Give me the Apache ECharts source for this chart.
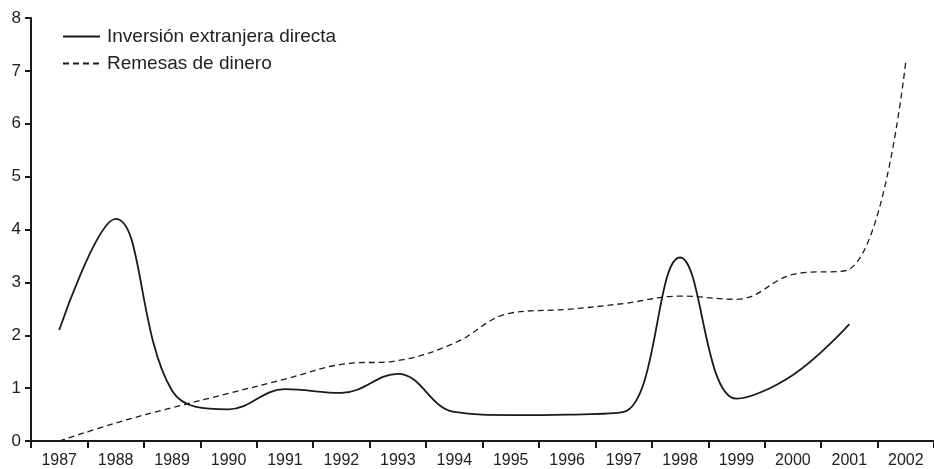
<!DOCTYPE html>
<html>
<head>
<meta charset="utf-8">
<script src="https://cdn.jsdelivr.net/npm/echarts@6/dist/echarts.min.js"></script>
<style>
  html, body { margin: 0; padding: 0; background: #fff; }
  #chart { width: 934px; height: 469px; }
</style>
</head>
<body>
<div id="chart"></div>
<script>
// years on the x axis
const years = ['1987', '1988', '1989', '1990', '1991', '1992', '1993', '1994',
  '1995', '1996', '1997', '1998', '1999', '2000', '2001', '2002'];

// Inversión extranjera directa (no 2002 value)
const inversion = [2.1, 4.2, 0.95, 0.6, 0.98, 0.91, 1.27, 0.55,
  0.49, 0.5, 0.55, 3.47, 0.8, 1.25, 2.21, null];

// Remesas de dinero
const remesas = [0, 0.34, 0.63, 0.9, 1.17, 1.45, 1.52, 1.85,
  2.42, 2.49, 2.6, 2.74, 2.68, 3.15, 3.25, 7.18];

const yTicks = { min: 0, max: 8, interval: 1 };

const fontFamily = '"Liberation Sans", Arial, sans-serif';
const ink = '#1a1a1a';

const myChart = echarts.init(document.getElementById('chart'), null, { renderer: 'canvas' });

const option = {
  animation: false,
  backgroundColor: '#fff',
  textStyle: { fontFamily },
  legend: {
    orient: 'vertical',
    left: 62,
    top: 27,
    padding: 0,
    itemWidth: 37,
    itemHeight: 14,
    itemGap: 8,
    // hide the symbol dot, keep only the line sample
    itemStyle: { opacity: 0 },
    textStyle: {
      fontSize: 19,
      color: '#222',
      fontFamily,
      lineHeight: 18,
      padding: [0, 0, 0, 2]
    },
    data: ['Inversión extranjera directa', 'Remesas de dinero']
  },
  grid: {
    left: 31,
    right: 0,
    top: 18,
    bottom: 26
  },
  xAxis: {
    type: 'category',
    data: years,
    boundaryGap: true,
    axisLine: { lineStyle: { color: ink, width: 2 } },
    axisTick: { show: true, length: 7, lineStyle: { color: ink, width: 2 } },
    axisLabel: { color: '#222', fontSize: 16, margin: 12, fontFamily },
    splitLine: { show: false }
  },
  yAxis: {
    type: 'value',
    min: yTicks.min,
    max: yTicks.max,
    interval: yTicks.interval,
    axisLine: { show: true, lineStyle: { color: ink, width: 2 } },
    axisTick: { show: true, length: 6, lineStyle: { color: ink, width: 2 } },
    axisLabel: { color: '#222', fontSize: 17, margin: 10, fontFamily },
    splitLine: { show: false }
  },
  series: [
    {
      name: 'Inversión extranjera directa',
      type: 'line',
      data: inversion,
      smooth: 0.4,
      symbol: 'none',
      lineStyle: { color: ink, width: 1.8, type: 'solid' },
      itemStyle: { color: ink }
    },
    {
      name: 'Remesas de dinero',
      type: 'line',
      data: remesas,
      smooth: 0.4,
      symbol: 'none',
      lineStyle: { color: ink, width: 1.3, type: [6, 4] },
      itemStyle: { color: ink }
    }
  ]
};

myChart.setOption(option);
</script>
</body>
</html>
